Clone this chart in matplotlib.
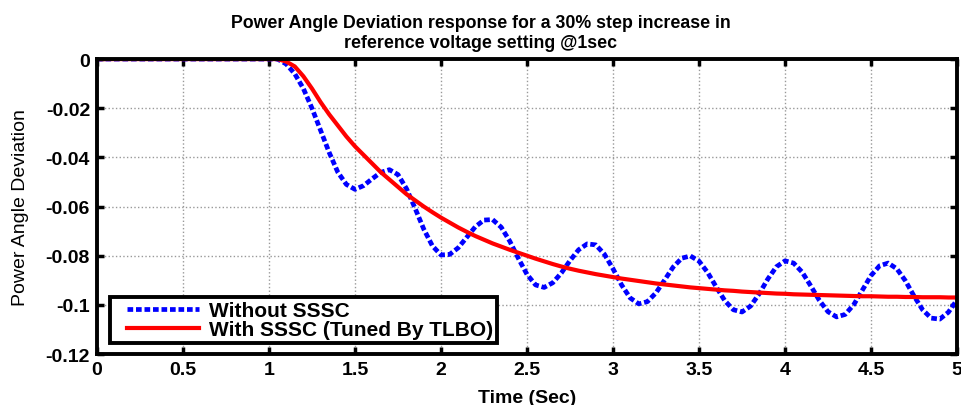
import numpy as np
import matplotlib
matplotlib.use("Agg")
import matplotlib.pyplot as plt
from matplotlib.ticker import FormatStrFormatter
from matplotlib.legend_handler import HandlerLine2D

plt.rcParams['font.family'] = ['Liberation Sans', 'DejaVu Sans']
narrow = ['Liberation Sans Narrow', 'Liberation Sans', 'DejaVu Sans']

# time axis (s)
t = np.round(np.arange(0, 5.0001, 0.05), 2)

# without SSSC
blue = [0]*22 + [
    -0.002, -0.006, -0.012, -0.020, -0.029, -0.038, -0.046, -0.051, -0.053,   # 1.10-1.50
    -0.0515, -0.0487, -0.0461, -0.045,                                        # 1.55-1.70
    -0.047, -0.0528, -0.0608, -0.0692, -0.076, -0.0797,                       # 1.75-2.00
    -0.0795, -0.0768, -0.0725, -0.0682, -0.0655,                              # 2.05-2.25
    -0.0653, -0.0684, -0.0741, -0.0811, -0.0876, -0.0919,                     # 2.30-2.55
    -0.0929, -0.091, -0.087, -0.082, -0.0776, -0.0752,                        # 2.60-2.85
    -0.0756, -0.0794, -0.0853, -0.0919, -0.0972, -0.0996,                     # 2.90-3.15
    -0.0987, -0.0951, -0.0899, -0.0846, -0.081,                               # 3.20-3.40
    -0.0801, -0.0822, -0.0868, -0.0927, -0.0983, -0.102,                      # 3.45-3.70
    -0.1029, -0.1005, -0.0955, -0.0895, -0.0845, -0.0821,                     # 3.75-4.00
    -0.083, -0.0867, -0.0923, -0.0982, -0.1028, -0.1049,                      # 4.05-4.30
    -0.1039, -0.0999, -0.094, -0.0881, -0.0841,                               # 4.35-4.55
    -0.083, -0.0853, -0.0902, -0.0964, -0.102, -0.1054,                       # 4.60-4.85
    -0.1058, -0.103, -0.098]                                                  # 4.90-5.00

# with SSSC tuned by TLBO
red = [0]*22 + [
    -0.001, -0.003, -0.007, -0.012, -0.0175, -0.0225, -0.027, -0.0315, -0.0355,  # 1.10-1.50
    -0.039, -0.0425, -0.046, -0.049, -0.052, -0.055, -0.0575, -0.060,         # 1.55-1.90
    -0.0623, -0.0645, -0.0665, -0.0685, -0.0703, -0.072, -0.0735, -0.075,     # 1.95-2.30
    -0.0763, -0.0776, -0.0788, -0.080, -0.0812, -0.0823, -0.0834, -0.0844,    # 2.35-2.70
    -0.0853, -0.0861, -0.0868, -0.0875, -0.0881, -0.0887,                     # 2.75-3.00
    -0.0893, -0.0898, -0.0903, -0.0908, -0.0913, -0.0917, -0.0921, -0.0925,   # 3.05-3.40
    -0.0929, -0.0932, -0.0935, -0.0938, -0.0941, -0.0943, -0.0946, -0.0948,   # 3.45-3.80
    -0.095, -0.0952, -0.0954, -0.0955, -0.0957, -0.0958, -0.0959, -0.096,     # 3.85-4.20
    -0.0961, -0.0962, -0.0963, -0.0964, -0.0965, -0.0965, -0.0966, -0.0967,   # 4.25-4.60
    -0.0967, -0.0968, -0.0968, -0.0969, -0.0969, -0.0969, -0.097, -0.097]     # 4.65-5.00

xticks = [0, 0.5, 1, 1.5, 2, 2.5, 3, 3.5, 4, 4.5, 5]
yticks = [0, -0.02, -0.04, -0.06, -0.08, -0.1, -0.12]

fig = plt.figure(figsize=(9.62, 4.06), dpi=100)
ax = fig.add_axes([0.1008, 0.1256, 0.894, 0.7264])

l1, = ax.plot(t, blue, color='#0000ff', ls=(0, (1.2, 0.6)), lw=3.4, label='Without SSSC')
l2, = ax.plot(t, red, color='#ff0000', ls='-', lw=3.0, label='With SSSC (Tuned By TLBO)')

ax.set_xlim(0, 5)
ax.set_ylim(-0.12, 0)
ax.set_xticks(xticks)
ax.set_yticks(yticks)
ax.xaxis.set_major_formatter(FormatStrFormatter('%g'))
ax.yaxis.set_major_formatter(FormatStrFormatter('%g'))
ax.grid(True, ls=':', color='#999999', lw=1.0)
ax.tick_params(direction='in', length=5, width=2.5, labelsize=14, pad=5,
               top=True, right=True)
for lab in ax.get_xticklabels() + ax.get_yticklabels():
    lab.set_fontweight('bold')
for s in ax.spines.values():
    s.set_linewidth(2.8)

fig.text(0.5, 0.963, 'Power Angle Deviation response for a 30% step increase in\n'
         'reference voltage setting @1sec', ha='center', va='top',
         fontsize=12.8, fontweight='bold', family=narrow, linespacing=1.2)
ax.set_xlabel('Time (Sec)', fontsize=14, fontweight='bold', labelpad=8)
ax.set_ylabel('Power Angle Deviation', fontsize=14, family=narrow, labelpad=12)

hpad = HandlerLine2D(xpad=0.6)
leg = ax.legend(loc='lower left', bbox_to_anchor=(0.015, 0.037), fancybox=False,
                framealpha=1, edgecolor='black', handlelength=4.1,
                handler_map={l1: hpad, l2: hpad},
                prop={'weight': 'bold', 'size': 15}, borderpad=0.2,
                labelspacing=0.0, handletextpad=0.45, borderaxespad=0)
leg.get_frame().set_linewidth(2.8)

fig.savefig('out.png', dpi=100)
